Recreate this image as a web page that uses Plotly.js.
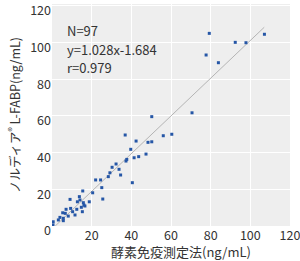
<!DOCTYPE html>
<html>
<head>
<meta charset="utf-8">
<script src="https://cdn.plot.ly/plotly-3.0.1.min.js"></script>
<style>html,body{margin:0;padding:0;background:#fff;}#chart{width:300px;height:261px;}</style>
</head>
<body>
<div id="chart"></div>
<script>
// Reference method (ELISA), ng/mL
var elisa = [79.3, 92.4, 97.8, 107.1, 77.7, 83.9, 70.6, 50.3,
  50.3, 56.1, 60.4,
  36.9, 42.4, 48.4, 39.7, 37.7, 37.3, 41.4, 43.7, 47.4, 40.5,
  32.3, 30.3, 33.8, 29.2, 34.6, 28.4, 22.0, 24.5, 25.1, 20.5, 25.6,
  15.5, 9.1, 13.8, 14.1, 15.8, 12.8, 18.8, 16.1, 14.8, 16.6, 12.5,
  15.3, 9.4, 7.1, 10.4, 11.6, 6.7, 5.4, 8.2, 4.0, 5.7, 3.2, 5.7, 0.6, 0.5];
// Norudia L-FABP, ng/mL
var norudia = [105.0, 100.1, 99.9, 104.5, 93.2, 89.0, 61.7, 59.6,
  45.9, 49.2, 50.0,
  49.6, 46.3, 45.6, 41.8, 36.3, 35.4, 37.2, 37.8, 39.2, 23.6,
  33.8, 32.0, 30.9, 29.0, 27.8, 26.9, 25.1, 25.1, 20.9, 18.1, 14.7,
  19.1, 14.5, 16.0, 14.2, 12.7, 13.2, 13.2, 11.4, 10.2, 10.9, 9.1,
  7.8, 9.6, 9.1, 7.8, 6.0, 6.9, 7.2, 5.4, 4.7, 4.2, 3.3, 2.9, 2.3, 0.6];
var slope = 1.028, intercept = -1.684;
var fitX = [1.64, 107];
var fitY = fitX.map(function(x){ return slope * x + intercept; });
var statLines = ['N=97', 'y=1.028x-1.684', 'r=0.979'];
var xTicks = [20, 40, 60, 80, 100, 120];
var yTicks = [0, 20, 40, 60, 80, 100, 120];
var xTitle = '酵素免疫測定法(ng/mL)';
var yTitle = 'ノルディア<sup>®</sup> L-FABP(ng/mL)';

var font = '"Noto Sans CJK JP", "Noto Sans", sans-serif';
var traces = [
  {x: fitX, y: fitY, mode: 'lines', line: {color: '#b4b4b4', width: 1}, hoverinfo: 'skip'},
  {x: elisa, y: norudia, mode: 'markers', marker: {color: '#2556a6', size: 3, symbol: 'square'}}
];
var ann = statLines.map(function(t, i){
  return {xref: 'paper', yref: 'paper', x: 0.055, y: 0.88 - i * 0.083, xanchor: 'left', yanchor: 'middle',
    text: t, showarrow: false, font: {family: font, size: 13, color: '#333'}};
});
ann.push({xref: 'paper', yref: 'paper', x: 0.54, y: -0.115, xanchor: 'center', yanchor: 'middle',
  text: xTitle, showarrow: false, font: {family: font, size: 13, color: '#333'}});
var layout = {
  width: 300, height: 261,
  margin: {l: 52, r: 10, t: 4, b: 35},
  paper_bgcolor: '#ffffff', plot_bgcolor: '#eeeeee',
  showlegend: false,
  font: {family: font, size: 13, color: '#333333'},
  xaxis: {range: [0, 120], tickvals: xTicks, showgrid: true, gridcolor: '#ffffff', gridwidth: 1,
    zeroline: false, showline: false, ticks: '', ticklen: 0, ticklabeloverflow: 'allow',
    tickfont: {family: font, size: 12.5, color: '#333'}},
  yaxis: {range: [0, 121], tickvals: yTicks, showgrid: true, gridcolor: '#ffffff', gridwidth: 1,
    zeroline: false, showline: false, ticks: '', ticklen: 0, ticklabelshift: 5, ticklabeloverflow: 'allow',
    tickfont: {family: font, size: 12.5, color: '#333'},
    title: {text: yTitle, standoff: 6, font: {family: font, size: 12.5, color: '#333'}}},
  annotations: ann
};
Plotly.newPlot('chart', traces, layout, {displayModeBar: false, staticPlot: true});
</script>
</body>
</html>
